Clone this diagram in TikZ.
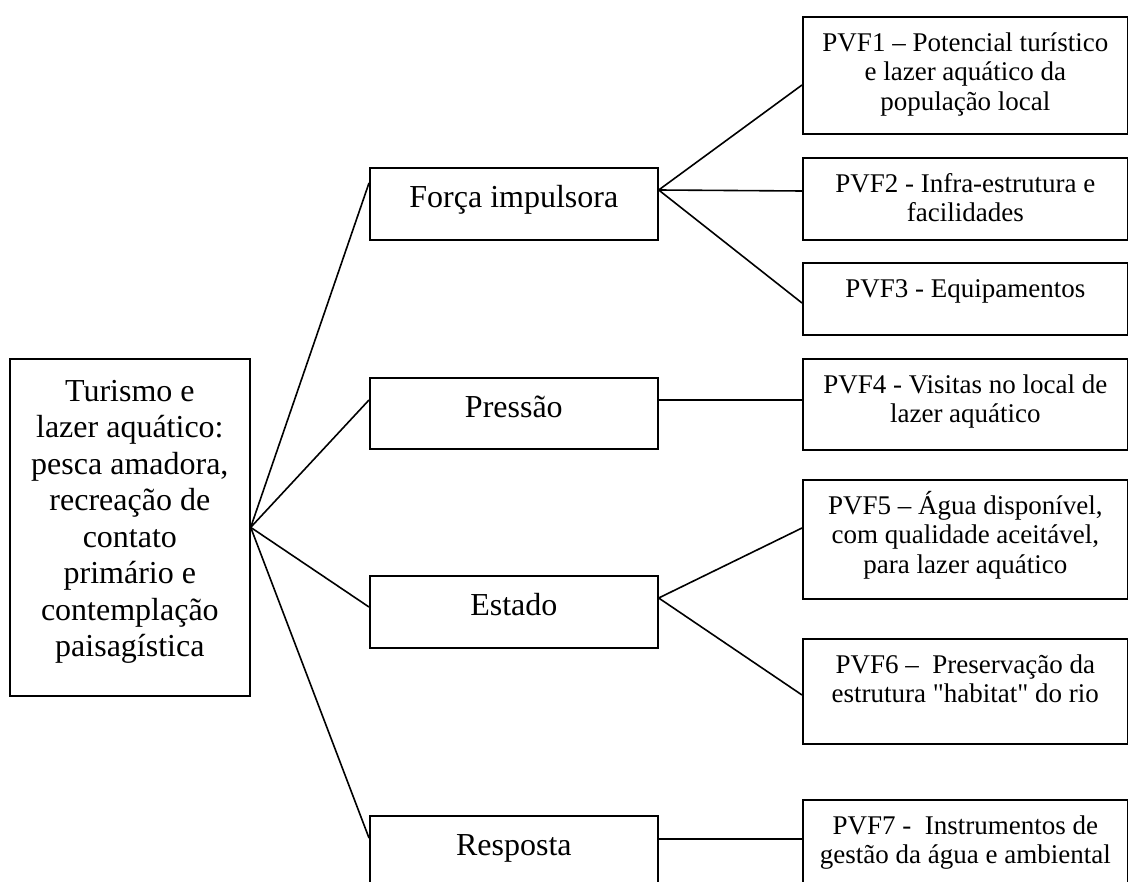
\documentclass[tikz,border=0pt]{standalone}
\usepackage{fontspec}
\setmainfont{Liberation Serif}
\newfontfamily\rawserif{Liberation Serif}
\newcommand\fst{\rule{0pt}{1em}}
\begin{document}
\begin{tikzpicture}[x=1pt,y=-1pt,
  box/.style={draw, line width=1.7pt, inner sep=0pt, anchor=north west, fill=white},
  bigtxt/.style={font=\fontsize{32}{36.5}\selectfont, align=center, inner sep=0pt, anchor=north},
  smalltxt/.style={font=\fontsize{27}{29.5}\selectfont, align=center, inner sep=0pt, anchor=north},
  conn/.style={line width=1.6pt}]
\fill[white] (0,0) rectangle (1128,882);
\useasboundingbox (0,0) rectangle (1128,882);
\begin{scope}
\clip (0,0) rectangle (1128,882);
% main box
\node[box, minimum width=240pt, minimum height=337pt] (main) at (9,358) {};
\node[bigtxt] (maintxt) at ([yshift=-11pt]main.north) {\fst Turismo e\\lazer aquático:\\pesca amadora,\\recreação de\\contato\\primário e\\contemplação\\paisagística};
% middle boxes
\node[box, minimum width=288pt, minimum height=72pt] (f) at (369,167) {};
\node[box, minimum width=288pt, minimum height=71pt] (p) at (369,377) {};
\node[box, minimum width=288pt, minimum height=72pt] (e) at (369,575) {};
\node[box, minimum width=288pt, minimum height=110pt] (r) at (369,815) {};
\node[bigtxt] (ftxt) at ([yshift=-8.5pt]f.north) {\fst Força impulsora};
\node[bigtxt] (ptxt) at ([yshift=-8.5pt]p.north) {\fst Pressão};
\node[bigtxt] (etxt) at ([yshift=-8.5pt]e.north) {\fst Estado};
\node[bigtxt] (rtxt) at ([yshift=-8.5pt]r.north) {\fst Resposta};
% right boxes
\node[box, minimum width=325pt, minimum height=117pt] (p1) at (802,16) {};
\node[box, minimum width=325pt, minimum height=82pt] (p2) at (802,157) {};
\node[box, minimum width=325pt, minimum height=72pt] (p3) at (802,262) {};
\node[box, minimum width=325pt, minimum height=91pt] (p4) at (802,358) {};
\node[box, minimum width=325pt, minimum height=119pt] (p5) at (802,479) {};
\node[box, minimum width=325pt, minimum height=105pt] (p6) at (802,638) {};
\node[box, minimum width=325pt, minimum height=120pt] (p7) at (802,799) {};
\node[smalltxt] (t1) at ([yshift=-8pt]p1.north) {\fst PVF1 – Potencial turístico\\e lazer aquático da\\população local};
\node[smalltxt] (t2) at ([yshift=-8pt]p2.north) {\fst PVF2 - Infra-estrutura e\\facilidades};
\node[smalltxt] (t3) at ([yshift=-8pt]p3.north) {\fst PVF3 - Equipamentos};
\node[smalltxt] (t4) at ([yshift=-8pt]p4.north) {\fst PVF4 - Visitas no local de\\lazer aquático};
\node[smalltxt] (t5) at ([yshift=-8pt]p5.north) {\fst PVF5 – Água disponível,\\com qualidade aceitável,\\para lazer aquático};
\node[smalltxt] (t6) at ([yshift=-8pt]p6.north) {\fst PVF6 –\ \ Preservação da\\estrutura {\rawserif"habitat"} do rio};
\node[smalltxt] (t7) at ([yshift=-8pt]p7.north) {\fst PVF7 -\ \ Instrumentos de\\gestão da água e ambiental};
% connectors
\draw[conn] (main.east) -- ([yshift=-16pt]f.north west);
\draw[conn] (main.east) -- ([yshift=-23pt]p.north west);
\draw[conn] (main.east) -- ([yshift=-32pt]e.north west);
\draw[conn] (main.east) -- ([yshift=-23pt]r.north west);
\draw[conn] ([yshift=-23pt]f.north east) -- ([yshift=-69pt]p1.north west);
\draw[conn] ([yshift=-23pt]f.north east) -- ([yshift=-34pt]p2.north west);
\draw[conn] ([yshift=-23pt]f.north east) -- ([yshift=-41pt]p3.north west);
\draw[conn] ([yshift=-23pt]p.north east) -- ([yshift=-42pt]p4.north west);
\draw[conn] ([yshift=-23pt]e.north east) -- ([yshift=-49pt]p5.north west);
\draw[conn] ([yshift=-23pt]e.north east) -- ([yshift=-57pt]p6.north west);
\draw[conn] ([yshift=-24pt]r.north east) -- ([yshift=-40pt]p7.north west);
\end{scope}
\end{tikzpicture}
\end{document}
